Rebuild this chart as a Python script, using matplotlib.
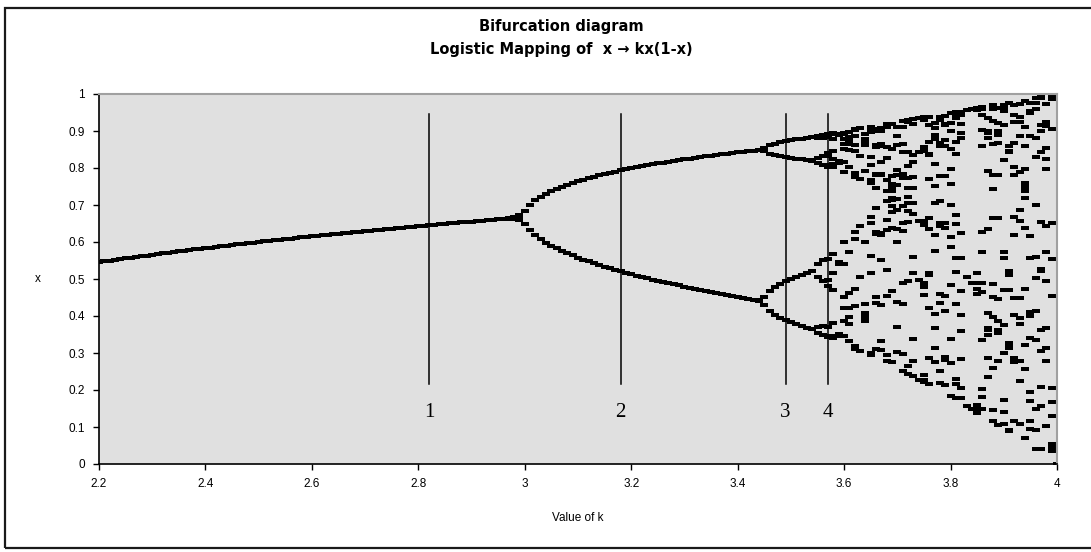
import numpy as np
import matplotlib.pyplot as plt
from matplotlib.patches import Rectangle

# range of k and the iteration settings for x -> kx(1-x)
k_min, k_max, k_step = 2.2, 4.0, 0.01
x_start = 0.5
n_skip = 150   # iterations thrown away before plotting
n_keep = 13    # iterations plotted per k

# vertical marker lines and their labels
marker_k = [2.82, 3.18, 3.49, 3.57]
marker_labels = ['1', '2', '3', '4']
marker_lo, marker_hi = 0.215, 0.945
label_y = 0.14

x_ticks = [2.2, 2.4, 2.6, 2.8, 3.0, 3.2, 3.4, 3.6, 3.8, 4.0]
y_ticks = [0, 0.1, 0.2, 0.3, 0.4, 0.5, 0.6, 0.7, 0.8, 0.9, 1.0]

# iterate the logistic map
k_vals = np.round(np.arange(k_min, k_max + k_step / 2, k_step), 4)
pts_k, pts_x = [], []
for k in k_vals:
    x = x_start
    for _ in range(n_skip):
        x = k * x * (1 - x)
    for _ in range(n_keep):
        x = k * x * (1 - x)
        pts_k.append(k)
        pts_x.append(x)

plt.rcParams['font.family'] = ['Liberation Sans', 'DejaVu Sans']

W, H = 1091, 552
fig = plt.figure(figsize=(W / 100, H / 100), dpi=100)

# outer frame of the chart
fig.add_artist(Rectangle((5 / W, 4 / H), 1.2, (548 - 4 - 4) / H, transform=fig.transFigure,
                         fill=False, edgecolor='#1a1a1a', linewidth=1.6))

ax = fig.add_axes([99 / W, 1 - 464 / H, 958 / W, 370 / H])
ax.set_facecolor('#e0e0e0')

dash = [(-3.6, -1.5), (3.6, -1.5), (3.6, 1.5), (-3.6, 1.5), (-3.6, -1.5)]
ax.plot(pts_k, pts_x, linestyle='none', marker=dash, markersize=5.3,
        markerfacecolor='black', markeredgewidth=0, color='black')

for kv, lab in zip(marker_k, marker_labels):
    ax.plot([kv, kv], [marker_lo, marker_hi], color='black', linewidth=1.1)
    ax.text(kv, label_y, lab, ha='center', va='center', fontsize=15,
            family=['Liberation Serif', 'DejaVu Serif'])

ax.set_xlim(k_min, k_max)
ax.set_ylim(0, 1)
ax.set_xticks(x_ticks)
ax.set_xticklabels([f'{v:g}' for v in x_ticks])
ax.set_yticks(y_ticks)
ax.set_yticklabels([f'{v:g}' for v in y_ticks])
ax.tick_params(direction='out', length=4, width=1, labelsize=8.5, pad=6)

for s in ['left', 'bottom']:
    ax.spines[s].set_color('black')
    ax.spines[s].set_linewidth(1.2)
for s in ['top', 'right']:
    ax.spines[s].set_color('#a0a0a0')
    ax.spines[s].set_linewidth(1.5)

ax.set_xlabel('Value of k', fontsize=8.5, labelpad=16)
ax.set_ylabel('x', fontsize=8.5, rotation=0, labelpad=22, va='center')

title_font = dict(ha='center', va='center', fontsize=10.5, fontweight='bold',
                  family=['DejaVu Sans'])
fig.text(561 / W, 1 - 27 / H, 'Bifurcation diagram', **title_font)
fig.text(561 / W, 1 - 49 / H, 'Logistic Mapping of  x \u2192 kx(1-x)', **title_font)

fig.savefig('out.png', dpi=100)
